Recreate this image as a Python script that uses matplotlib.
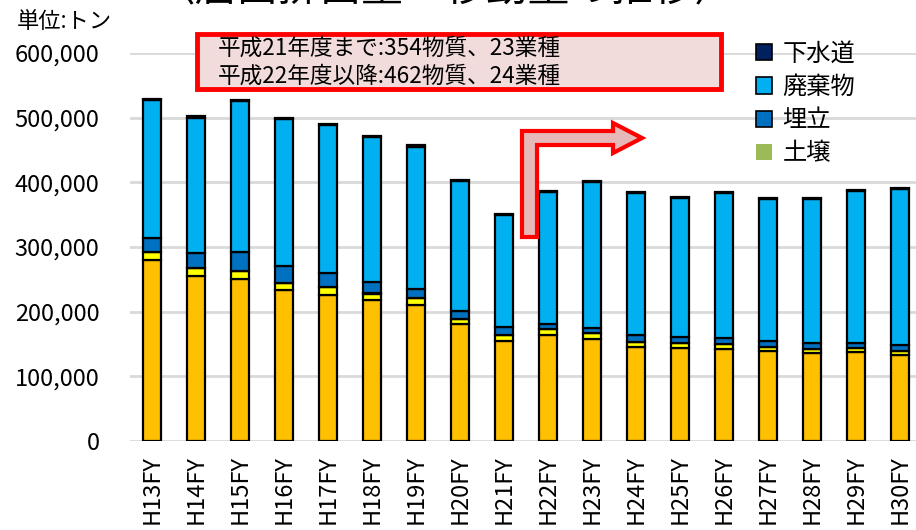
import matplotlib
matplotlib.use("Agg")
import matplotlib.pyplot as plt
from matplotlib.patches import Patch, Rectangle, Polygon
from matplotlib.ticker import FuncFormatter, MultipleLocator
import numpy as np

plt.rcParams['font.family'] = ['Noto Sans CJK JP', 'DejaVu Sans']

years = ["H13FY", "H14FY", "H15FY", "H16FY", "H17FY", "H18FY", "H19FY", "H20FY", "H21FY",
         "H22FY", "H23FY", "H24FY", "H25FY", "H26FY", "H27FY", "H28FY", "H29FY", "H30FY"]

# stacked from bottom to top (tonnes)
atmosphere = [280000, 255000, 251000, 233500, 226000, 218000, 210800, 180400, 155000,
              164000, 157700, 145800, 144300, 142300, 139200, 135600, 137200, 133000]
water = [12000, 12000, 12000, 11500, 11600, 10000, 9800, 8600, 9000,
         8700, 8800, 7700, 6700, 7200, 6600, 6700, 6100, 6600]
soil = [100, 100, 100, 100, 100, 100, 100, 100, 100,
        100, 100, 100, 100, 100, 100, 100, 100, 100]
landfill = [22000, 24000, 29000, 25600, 22400, 18000, 14900, 12500, 12700,
            8300, 8500, 10400, 9900, 10100, 8700, 8600, 8600, 8700]
waste = [213000, 208500, 233000, 226900, 228600, 223600, 219600, 200400, 173000,
         204000, 225000, 219000, 215000, 224000, 220000, 223000, 234000, 240600]
sewer = [2500, 2500, 2500, 2500, 2200, 2100, 2100, 2000, 1900,
         1800, 1800, 1700, 1600, 1600, 1600, 1600, 1600, 1600]

series = [
    ("大気", atmosphere, "#FFC000"),
    ("水域", water, "#FFFF00"),
    ("土壌", soil, "#9BBB59"),
    ("埋立", landfill, "#0070C0"),
    ("廃棄物", waste, "#00B0F0"),
    ("下水道", sewer, "#002060"),
]

W, H = 916, 530
fig = plt.figure(figsize=(W / 100, H / 100), dpi=100)
ax = fig.add_axes([130 / W, 1 - 441 / H, 792 / W, 388 / H])

x = np.arange(len(years))
bottom = np.zeros(len(years))
for name, vals, col in series:
    v = np.array(vals, dtype=float)
    ax.bar(x, v, bottom=bottom, width=0.42, color=col, edgecolor="black", linewidth=1.6, zorder=3)
    bottom += v

ax.set_xlim(-0.5, len(years) - 0.5)
ax.set_ylim(0, 600000)
ax.yaxis.set_major_locator(MultipleLocator(100000))
ax.yaxis.set_major_formatter(FuncFormatter(lambda v, p: f"{int(v):,}"))
ax.grid(axis="y", color="#D9D9D9", linewidth=2, zorder=0)
ax.set_axisbelow(True)
for s in ax.spines.values():
    s.set_visible(False)
ax.set_xticks(x)
ax.set_xticklabels(years, rotation=90, fontsize=17)
ax.tick_params(axis="both", length=0, labelsize=17)
ax.tick_params(axis="x", pad=10)
ax.tick_params(axis="y", pad=22)

# unit label
fig.text(17 / W, 1 - 22 / H, "単位:トン", fontsize=16, ha="left", va="center")

# cut-off title (only its lower part is visible in the reference)
fig.text(445 / W, 1 + 10 / H, "〈届出排出量・移動量の推移〉", fontsize=30, ha="center", va="center")

# note box
rect = Rectangle((197 / W, 1 - 89 / H), 524 / W, 55 / H, transform=fig.transFigure,
                 facecolor="#F2DCDB", edgecolor="#FF0000", linewidth=3.5, zorder=5)
fig.patches.append(rect)
fig.text(218 / W, 1 - 48 / H, "平成21年度まで:354物質、23業種", fontsize=16.3, ha="left", va="center", zorder=6)
fig.text(218 / W, 1 - 76 / H, "平成22年度以降:462物質、24業種", fontsize=16.3, ha="left", va="center", zorder=6)

# bent arrow
pts = [(522, 237), (522, 131), (613, 131), (613, 123), (642, 138), (613, 153),
       (613, 145), (537, 145), (537, 237)]
poly = Polygon([(px / W, 1 - py / H) for px, py in pts], closed=True, transform=fig.transFigure,
               facecolor="#E6B9B8", edgecolor="#FF0000", linewidth=3, joinstyle="miter", zorder=5)
fig.patches.append(poly)

# legend (only the visible entries)
handles = [
    Patch(facecolor="#002060", edgecolor="black", linewidth=1.2, label="下水道"),
    Patch(facecolor="#00B0F0", edgecolor="black", linewidth=1.2, label="廃棄物"),
    Patch(facecolor="#0070C0", edgecolor="black", linewidth=1.2, label="埋立"),
    Patch(facecolor="#9BBB59", edgecolor="none", label="土壌"),
]
fig.legend(handles=handles, loc="upper left", bbox_to_anchor=(746 / W, 1 - 31 / H),
           frameon=False, fontsize=17.5, handlelength=0.65, handleheight=0.65,
           handletextpad=0.45, labelspacing=0.3, borderaxespad=0)

fig.savefig("out.png", dpi=100)
